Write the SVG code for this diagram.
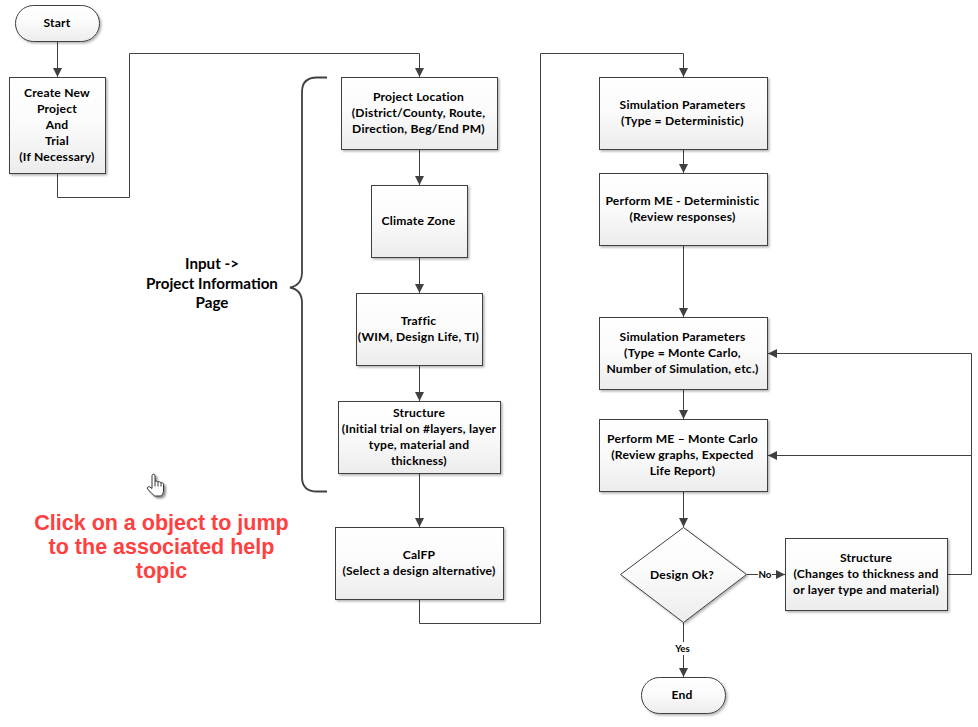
<svg xmlns="http://www.w3.org/2000/svg" width="978" height="727" viewBox="0 0 978 727">
<style>
.n{fill:url(#g);stroke:#404040;stroke-width:1;filter:url(#s)}
.t{font-family:Lato,"Liberation Sans",sans-serif;font-weight:700;font-size:12.1px;letter-spacing:0.22px;fill:#000;text-anchor:middle}
.c{fill:none;stroke:#404040;stroke-width:1}
.a{marker-end:url(#m)}
.b{font-family:Lato,"Liberation Sans",sans-serif;font-weight:700;font-size:15.2px;fill:#000;text-anchor:middle}
.r{font-family:"Liberation Sans",Arial,sans-serif;font-weight:700;font-size:21.5px;fill:#ff4040;text-anchor:middle}
.l{font-family:Lato,"Liberation Sans",sans-serif;font-weight:700;font-size:9.7px;fill:#000;text-anchor:middle}
</style>
<defs>
<linearGradient id="g" x1="0" y1="0" x2="0" y2="1"><stop offset="0" stop-color="#fff"/><stop offset="0.45" stop-color="#fbfbfb"/><stop offset="1" stop-color="#ececec"/></linearGradient>
<filter id="s" x="-5%" y="-5%" width="112%" height="115%"><feDropShadow dx="1.5" dy="1.5" stdDeviation="0.8" flood-color="#000" flood-opacity="0.3"/></filter>
<filter id="hs" x="-20%" y="-20%" width="160%" height="160%"><feDropShadow dx="2" dy="2" stdDeviation="1.2" flood-color="#000" flood-opacity="0.45"/></filter>
<marker id="m" markerUnits="userSpaceOnUse" markerWidth="10" markerHeight="9" refX="9" refY="4.5" orient="auto"><path d="M0,0L9,4.5L0,9Z" fill="#404040"/></marker>
</defs>
<g id="connectors">
<path class="c a" d="M57.5,41V77"/>
<path class="c a" d="M57.5,173.5V197.5H129.5V53.5H419.5V77"/>
<path class="c a" d="M419.5,149.5V185"/>
<path class="c a" d="M419.5,257.5V293"/>
<path class="c a" d="M419.5,365.5V401"/>
<path class="c a" d="M419.5,473.5V527"/>
<path class="c a" d="M419.5,599.5V623.5H540.5V53.5H683.5V77"/>
<path class="c a" d="M683.5,149.5V173"/>
<path class="c a" d="M683.5,245.5V317"/>
<path class="c a" d="M683.5,389.5V419"/>
<path class="c a" d="M683.5,491.5V527"/>
<path class="c a" d="M746.5,574.5H785"/>
<path class="c a" d="M683.5,622.5V677"/>
<path class="c a" d="M947.5,574.5H971.5V353.5H768"/>
<path class="c a" d="M971.5,455.5H768"/>
<path class="c" d="M327,77.5H317C307,77.5 302,82 302,92V272C302,281 298,286 290,287.5C298,289 302,294 302,303V477C302,486 307,491.5 317,491.5H327" style="stroke-width:1.8"/>
<rect x="758" y="568" width="14" height="13" fill="#fff"/>
<text class="l" x="765" y="578">No</text>
<rect x="672" y="642" width="22" height="13" fill="#fff"/>
<text class="l" x="682.5" y="652">Yes</text>
</g>
<g id="start"><rect class="n" x="15.5" y="5.5" width="84" height="36" rx="18"/><text class="t" x="57" y="27">Start</text></g>
<g id="create"><rect class="n" x="9.5" y="77.5" width="96" height="96"/><text class="t"><tspan x="57" y="97">Create New</tspan><tspan x="57" y="113">Project</tspan><tspan x="57" y="129">And</tspan><tspan x="57" y="145">Trial</tspan><tspan x="57" y="161">(If Necessary)</tspan></text></g>
<g id="project-location"><rect class="n" x="341.5" y="77.5" width="156" height="72"/><text class="t"><tspan x="418.5" y="101">Project Location</tspan><tspan x="418.5" y="117">(District/County, Route,</tspan><tspan x="418.5" y="133">Direction, Beg/End PM)</tspan></text></g>
<g id="climate"><rect class="n" x="371.5" y="185.5" width="96" height="72"/><text class="t" x="418.5" y="225">Climate Zone</text></g>
<g id="traffic"><rect class="n" x="356.5" y="293.5" width="126" height="72"/><text class="t"><tspan x="418.5" y="325">Traffic</tspan><tspan x="418.5" y="341">(WIM, Design Life, TI)</tspan></text></g>
<g id="structure-1"><rect class="n" x="338.5" y="401.5" width="162" height="72"/><text class="t"><tspan x="419" y="417">Structure</tspan><tspan x="419" y="433">(Initial trial on #layers, layer</tspan><tspan x="419" y="449">type, material and</tspan><tspan x="419" y="465">thickness)</tspan></text></g>
<g id="calfp"><rect class="n" x="335.5" y="527.5" width="168" height="72"/><text class="t"><tspan x="419" y="559">CalFP</tspan><tspan x="419" y="575">(Select a design alternative)</tspan></text></g>
<g id="sim-det"><rect class="n" x="599.5" y="77.5" width="168" height="72"/><text class="t"><tspan x="682.5" y="109">Simulation Parameters</tspan><tspan x="682.5" y="125">(Type = Deterministic)</tspan></text></g>
<g id="me-det"><rect class="n" x="599.5" y="173.5" width="168" height="72"/><text class="t"><tspan x="682.5" y="205">Perform ME - Deterministic</tspan><tspan x="682.5" y="221">(Review responses)</tspan></text></g>
<g id="sim-mc"><rect class="n" x="599.5" y="317.5" width="168" height="72"/><text class="t"><tspan x="682.5" y="341">Simulation Parameters</tspan><tspan x="682.5" y="357">(Type = Monte Carlo,</tspan><tspan x="682.5" y="373">Number of Simulation, etc.)</tspan></text></g>
<g id="me-mc"><rect class="n" x="599.5" y="419.5" width="168" height="72"/><text class="t"><tspan x="682.5" y="443">Perform ME – Monte Carlo</tspan><tspan x="682.5" y="459">(Review graphs, Expected</tspan><tspan x="682.5" y="475">Life Report)</tspan></text></g>
<g id="design-ok"><path class="n" d="M683.5,527.5L746.5,574.5L683.5,622.5L620.5,574.5Z"/><text class="t" x="682" y="579">Design Ok?</text></g>
<g id="structure-2"><rect class="n" x="785.5" y="538.5" width="162" height="72"/><text class="t"><tspan x="866" y="562">Structure</tspan><tspan x="866" y="578">(Changes to thickness and</tspan><tspan x="866" y="594">or layer type and material)</tspan></text></g>
<g id="end"><rect class="n" x="641.5" y="677.5" width="84" height="36" rx="18"/><text class="t" x="682" y="699">End</text></g>
<g id="input-label"><text class="b"><tspan x="212" y="269">Input -&gt;</tspan><tspan x="212" y="289">Project Information</tspan><tspan x="212" y="308">Page</tspan></text></g>
<g id="note"><text class="r"><tspan x="161.5" y="530">Click on a object to jump</tspan><tspan x="161.5" y="554">to the associated help</tspan><tspan x="161.5" y="578">topic</tspan></text></g>
<path id="hand" d="M152.5,474.5C153.8,473.5 155,474.5 155,476V481.5C156,480.8 157.5,481 158,482C159,481.3 160.5,481.8 161,482.8C162,482.3 163.5,483 163.5,484.5V490C163.5,493 162,496 160,496H154.5C152.5,494 150,491.5 147.5,489C146.5,487.5 148.5,486 150,487L152,488.5V476C152,475.5 152.2,475 152.5,474.5ZM155,481.5V486.5M158,482V486.5M161,482.8V486.5" fill="#fff" stroke="#222" stroke-width="0.9" filter="url(#hs)"/>
</svg>
